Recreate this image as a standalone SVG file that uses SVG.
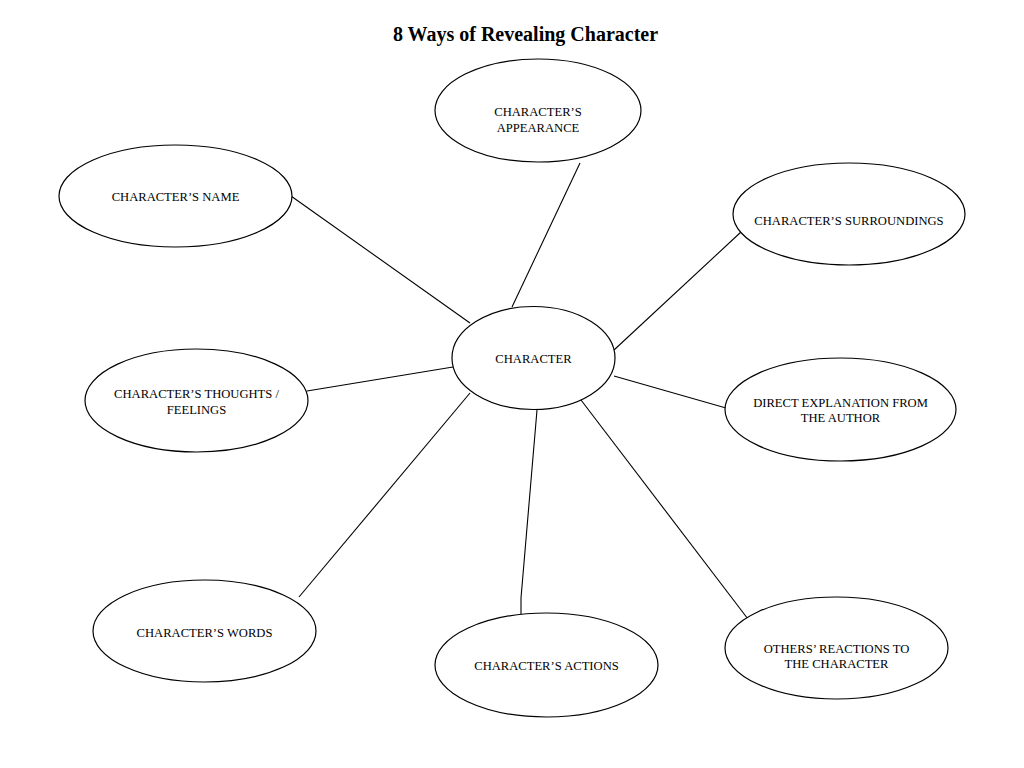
<svg xmlns="http://www.w3.org/2000/svg" width="1024" height="768" viewBox="0 0 1024 768">
<style>
.n ellipse{fill:#fff;stroke:#000;stroke-width:1.2}
.n text{font-family:"Liberation Serif","Times New Roman",serif;font-size:12.6px;fill:#000;text-anchor:middle}
.c line,.c polyline{stroke:#000;stroke-width:1.1;fill:none}
.t{font-family:"Liberation Serif","Times New Roman",serif;font-size:20px;font-weight:bold;text-anchor:middle}
</style>
<rect width="1024" height="768" fill="#fff"/>
<text class="t" x="525.5" y="41">8 Ways of Revealing Character</text>
<g class="c" id="connectors">
<line x1="291" y1="196" x2="470" y2="323"/>
<line x1="580" y1="163" x2="512" y2="307"/>
<line x1="741" y1="232" x2="614" y2="350"/>
<line x1="307" y1="391" x2="453" y2="367"/>
<line x1="614" y1="376" x2="726" y2="408"/>
<line x1="470" y1="393" x2="299" y2="597"/>
<polyline points="537,410 521,598 521,614"/>
<line x1="581" y1="400" x2="751" y2="623"/>
</g>
<g class="n" id="appearance"><ellipse cx="538" cy="110.5" rx="103" ry="51.5"/><text x="538" y="116">CHARACTER’S</text><text x="538" y="132">APPEARANCE</text></g>
<g class="n" id="name"><ellipse cx="175.5" cy="196" rx="116.5" ry="51"/><text x="175.5" y="201">CHARACTER’S NAME</text></g>
<g class="n" id="surroundings"><ellipse cx="849" cy="214" rx="116" ry="51"/><text x="849" y="225">CHARACTER’S SURROUNDINGS</text></g>
<g class="n" id="character"><ellipse cx="533.5" cy="358" rx="81.5" ry="51.5"/><text x="533.5" y="363">CHARACTER</text></g>
<g class="n" id="thoughts"><ellipse cx="196.5" cy="400.5" rx="111.5" ry="51.5"/><text x="196.5" y="398">CHARACTER’S THOUGHTS /</text><text x="196.5" y="414">FEELINGS</text></g>
<g class="n" id="direct"><ellipse cx="840.5" cy="409.5" rx="115.5" ry="51.5"/><text x="840.5" y="407">DIRECT EXPLANATION FROM</text><text x="840.5" y="422">THE AUTHOR</text></g>
<g class="n" id="words"><ellipse cx="204.5" cy="631" rx="111.5" ry="51"/><text x="204.5" y="637">CHARACTER’S WORDS</text></g>
<g class="n" id="actions"><ellipse cx="546.5" cy="665" rx="111.5" ry="52"/><text x="546.5" y="670">CHARACTER’S ACTIONS</text></g>
<g class="n" id="others"><ellipse cx="836.5" cy="648" rx="111.5" ry="51"/><text x="836.5" y="653">OTHERS’ REACTIONS TO</text><text x="836.5" y="668">THE CHARACTER</text></g>
</svg>
